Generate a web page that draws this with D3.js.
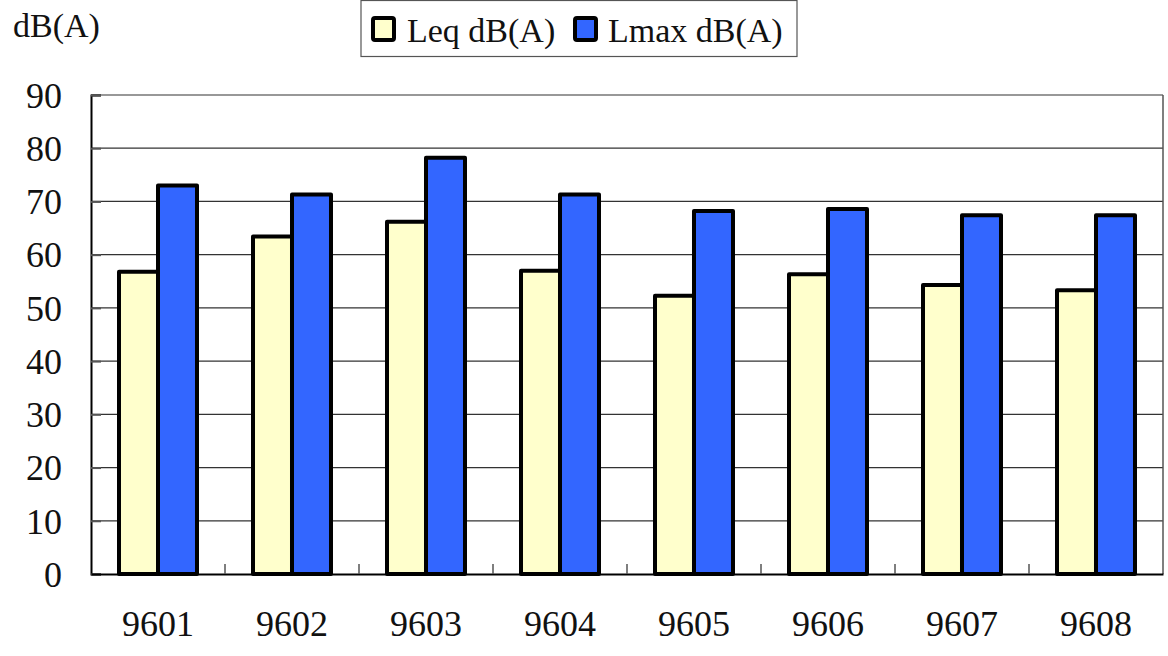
<!DOCTYPE html>
<html><head><meta charset="utf-8">
<script src="https://cdn.jsdelivr.net/npm/d3@7"></script>
<style>body{margin:0;background:#fff}svg{display:block}</style>
</head><body><svg id="c" width="1168" height="656"></svg>
<script>
const categories = ["9601","9602","9603","9604","9605","9606","9607","9608"];
const seriesNames = ["Leq dB(A)","Lmax dB(A)"];
const leqValues = [56.8, 63.4, 66.2, 57.0, 52.3, 56.3, 54.3, 53.3];
const lmaxValues = [73.0, 71.3, 78.2, 71.3, 68.2, 68.6, 67.4, 67.4];
const yTicks = [0,10,20,30,40,50,60,70,80,90];
const colors = ["#FFFFCC","#3366FF"];
const FONT = '"Liberation Serif", "DejaVu Serif", serif';

const svg = d3.select("#c");
const L = 91, R = 1163, T = 95, B = 574;
const x = d3.scaleBand().domain(categories).range([L, R]).paddingInner(0.418).paddingOuter(0.209);
const xs = d3.scaleBand().domain(seriesNames).range([0, x.bandwidth()]);
const y = d3.scaleLinear().domain([0, 90]).range([B, T]);

// gridlines
svg.append("g").selectAll("line").data(yTicks.filter(d => d > 0)).join("line")
  .attr("x1", L).attr("x2", R).attr("y1", d => y(d)).attr("y2", d => y(d))
  .attr("stroke", "#333").attr("stroke-width", 1.2);
// frame right
svg.append("line").attr("x1", R).attr("x2", R).attr("y1", T).attr("y2", B).attr("stroke", "#555").attr("stroke-width", 1.5);

// y axis
const yAxis = d3.axisLeft(y).tickValues(yTicks).tickSize(-10).tickPadding(30).tickFormat(d3.format("d"));
const gy = svg.append("g").attr("transform", `translate(${L},0)`).call(yAxis).attr("font-family", FONT);
gy.select(".domain").attr("stroke", "#000").attr("stroke-width", 2);
gy.selectAll(".tick line").attr("stroke", "#555").attr("stroke-width", 2);
gy.selectAll(".tick text").style("font-family", FONT).style("font-size", "36px").attr("dy", "0.34em").attr("x", -29).style("fill", "#111");

// x axis
const xAxis = d3.axisBottom(x).tickSize(0).tickPadding(40);
const gx = svg.append("g").attr("transform", `translate(0,${B})`).call(xAxis).attr("font-family", FONT);
gx.select(".domain").attr("stroke", "#000").attr("stroke-width", 2);
gx.selectAll(".tick text").style("font-family", FONT).style("font-size", "36px").style("fill", "#111").attr("dy", "0.6em");
// category boundary ticks
svg.append("g").selectAll("line").data(categories.slice(1)).join("line")
  .attr("x1", d => x(d) - x.step() * x.paddingInner() / 2).attr("x2", d => x(d) - x.step() * x.paddingInner() / 2)
  .attr("y1", B).attr("y2", B - 10).attr("stroke", "#555").attr("stroke-width", 1.5);

// bars
const rows = categories.map((c, i) => ({ c, vals: [leqValues[i], lmaxValues[i]] }));
const g = svg.append("g").selectAll("g").data(rows).join("g").attr("transform", d => `translate(${x(d.c)},0)`);
g.selectAll("rect").data(d => d.vals.map((v, j) => ({ v, j }))).join("rect")
  .attr("x", d => xs(seriesNames[d.j])).attr("width", xs.bandwidth())
  .attr("y", d => y(d.v)).attr("height", d => y(0) - y(d.v))
  .attr("fill", d => colors[d.j]).attr("stroke", "#000").attr("stroke-width", 4).attr("stroke-linejoin", "round");

// y unit label
svg.append("text").attr("x", 13).attr("y", 37).style("font-family", FONT).style("font-size", "34px").style("fill", "#111").text("dB(A)");

// legend
const lg = svg.append("g");
lg.append("rect").attr("x", 361).attr("y", 0.5).attr("width", 436).attr("height", 56).attr("fill", "#fff").attr("stroke", "#555").attr("stroke-width", 1.2);
const lx = [373, 575], tx = [407, 608];
seriesNames.forEach((n, i) => {
  lg.append("rect").attr("x", lx[i]).attr("y", 18).attr("width", 21).attr("height", 22).attr("rx", 2)
    .attr("fill", colors[i]).attr("stroke", "#000").attr("stroke-width", 4);
  lg.append("text").attr("x", tx[i]).attr("y", 42).style("font-family", FONT).style("font-size", "34px").style("fill", "#111").text(n);
});
</script></body></html>
